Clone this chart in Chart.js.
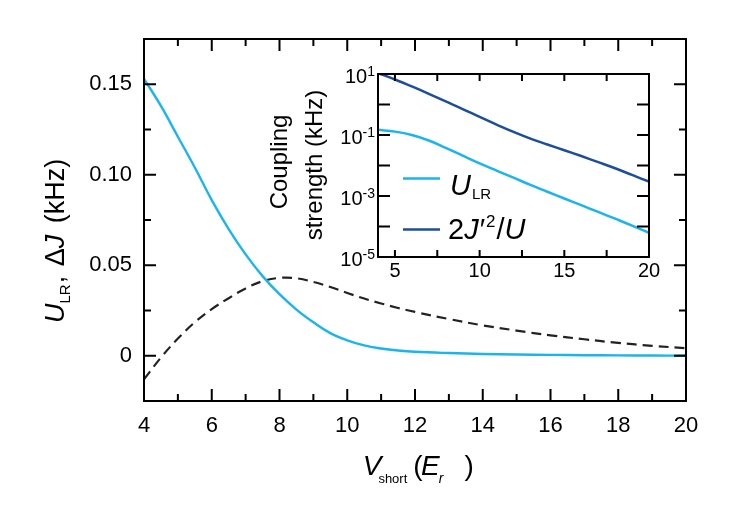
<!DOCTYPE html>
<html><head><meta charset="utf-8">
<script src="https://cdn.jsdelivr.net/npm/chart.js@4/dist/chart.umd.min.js"></script>
<style>
html,body{margin:0;padding:0;background:#fff;}
#wrap{position:relative;width:746px;height:515px;overflow:hidden;}
#main{position:absolute;left:0;top:0;}
#inset{position:absolute;left:250px;top:40px;}
</style></head>
<body><div id="wrap"><canvas id="main" width="746" height="515"></canvas><canvas id="inset" width="440" height="260"></canvas></div>
<script>
// ---- data ----
const vShort = [4,4.5,5,5.5,6,6.5,7,7.5,8,8.5,9,9.5,10,10.5,11,11.5,12,13,14,15,16,17,18,19,20];
const uLR    = [0.153,0.138,0.121,0.104,0.086,0.070,0.056,0.044,0.034,0.0255,0.0185,0.0125,0.0085,0.0057,0.0040,0.0029,0.0022,0.0015,0.0010,0.0007,0.0005,0.0003,0.0002,0.0001,0.0001];
const deltaJ = [-0.013,-0.001,0.0095,0.0185,0.0258,0.0318,0.0372,0.0412,0.0430,0.0428,0.0408,0.0380,0.0347,0.0316,0.0289,0.0264,0.0242,0.0203,0.0168,0.0139,0.0113,0.0091,0.0071,0.0055,0.0042];

const insetV   = [4,5,6,7,8,9,10,11,12,13,14,15,16,17,18,19,20];
const insetULR = [0.148,0.129,0.100,0.066,0.038,0.021,0.0117,0.0068,0.0040,0.0023,0.00138,0.00083,0.0005,0.0003,0.00018,0.000107,0.0000617];
const insetJ2U = [10.7,6.6,3.9,2.24,1.26,0.71,0.39,0.22,0.126,0.076,0.049,0.0316,0.0204,0.0129,0.0081,0.0049,0.00295];

const insetXTicks = [5,7.5,10,12.5,15,17.5,20];
const insetYTicks = [1e-5,1e-4,1e-3,1e-2,1e-1,1,10];
const insetYLabelExp = [1,-1,-3,-5];

const CYAN = '#19b5ec', NAVY = '#1b4f9b', DASH = '#222222';
const FAM = '"Liberation Sans", Arial, Helvetica, sans-serif';
const F = (s, it) => (it ? 'italic ' : '') + s + 'px ' + FAM;

function rich(ctx, x, y, rot, parts) {
  ctx.save(); ctx.translate(x, y); if (rot) ctx.rotate(rot);
  ctx.fillStyle = '#000'; ctx.textBaseline = 'alphabetic'; ctx.textAlign = 'left';
  let cx = 0;
  parts.forEach(p => { ctx.font = p.f; cx += (p.dx || 0); ctx.fillText(p.t, cx, p.dy || 0); cx += ctx.measureText(p.t).width; });
  ctx.restore();
}

function frameTicks(chart, xLen, yLen) {
  const {ctx, chartArea: a} = chart; const xs = chart.scales.x, ys = chart.scales.y;
  ctx.save(); ctx.strokeStyle = '#000'; ctx.lineWidth = 2; ctx.lineCap = 'butt';
  ctx.beginPath();
  xs.ticks.forEach(t => { const p = xs.getPixelForValue(t.value); const L = xLen(t.value);
    if (p <= a.left + 1 || p >= a.right - 1) return;
    ctx.moveTo(p, a.bottom); ctx.lineTo(p, a.bottom - L); ctx.moveTo(p, a.top); ctx.lineTo(p, a.top + L); });
  ys.ticks.forEach(t => { const p = ys.getPixelForValue(t.value); const L = yLen(t.value);
    if (p <= a.top + 1 || p >= a.bottom - 1) return;
    ctx.moveTo(a.left, p); ctx.lineTo(a.left + L, p); ctx.moveTo(a.right, p); ctx.lineTo(a.right - L, p); });
  ctx.stroke();
  ctx.strokeRect(a.left, a.top, a.right - a.left, a.bottom - a.top);
  ctx.restore();
}

const mainDecor = {
  id: 'mainDecor',
  afterDraw(chart) {
    frameTicks(chart, v => (Math.round(v) % 2 === 0 ? 12 : 7), v => (Math.round(v * 1000) % 50 === 0 ? 12 : 7));
    const ctx = chart.ctx;
    rich(ctx, 64, 323, -Math.PI / 2, [
      {t: 'U', f: F(27, true)}, {t: 'LR', f: F(15), dy: 6, dx: 0},
      {t: ',', f: F(27), dx: 1}, {t: ' \u0394', f: F(27), dx: 2}, {t: 'J', f: F(27, true)},
      {t: ' (kHz)', f: F(27), dx: 4}
    ]);
    rich(ctx, 362.7, 475, 0, [
      {t: 'V', f: F(28, true)}, {t: 'short', f: F(13), dy: 7.7, dx: -3},
      {t: '(', f: F(28), dx: 6}, {t: 'E', f: F(28, true), dx: -1.5},
      {t: 'r', f: F(14, true), dy: 7.7, dx: -1}, {t: ')', f: F(28), dx: 21}
    ]);
  }
};

new Chart(document.getElementById('main'), {
  type: 'line',
  data: {
    datasets: [
      {data: vShort.map((v, i) => ({x: v, y: uLR[i]})), borderColor: CYAN, borderWidth: 2.4, pointRadius: 0, tension: 0.4, fill: false},
      {data: vShort.map((v, i) => ({x: v, y: deltaJ[i]})), borderColor: DASH, borderWidth: 2.2, borderDash: [10, 6], pointRadius: 0, tension: 0.4, fill: false}
    ]
  },
  options: {
    responsive: false, animation: false, devicePixelRatio: 1,
    layout: {padding: {top: 39, right: 60, left: 0, bottom: 0}},
    plugins: {legend: {display: false}, tooltip: {enabled: false}},
    scales: {
      x: {
        type: 'linear', min: 4, max: 20, position: 'bottom',
        grid: {display: false, drawTicks: false}, border: {display: false},
        ticks: {stepSize: 1, autoSkip: false, maxRotation: 0, padding: 12, color: '#000',
          font: {family: FAM, size: 22},
          callback: v => (Math.round(v) % 2 === 0 ? String(Math.round(v)) : '')},
        afterFit: s => { s.height = 114; }
      },
      y: {
        type: 'linear', min: -0.025, max: 0.175, position: 'left',
        grid: {display: false, drawTicks: false}, border: {display: false},
        ticks: {stepSize: 0.025, autoSkip: false, padding: 12, color: '#000',
          font: {family: FAM, size: 22},
          callback: v => { const r = Math.round(v * 1000); if (r % 50 !== 0 || r < 0 || r > 150) return ''; return r === 0 ? '0' : (r / 1000).toFixed(2); }},
        afterFit: s => { s.width = 144; }
      }
    }
  },
  plugins: [mainDecor]
});

const insetDecor = {
  id: 'insetDecor',
  afterDraw(chart) {
    frameTicks(chart, () => 7, () => 12);
    const ctx = chart.ctx; const a = chart.chartArea; const ys = chart.scales.y;
    insetYLabelExp.forEach(e => {
      const p = ys.getPixelForValue(Math.pow(10, e));
      ctx.save(); ctx.fillStyle = '#000'; ctx.textBaseline = 'alphabetic';
      ctx.font = F(20); const w1 = ctx.measureText('10').width;
      ctx.font = F(14); const es = String(e); const w2 = ctx.measureText(es).width;
      const x0 = a.left - 3 - w1 - w2;
      ctx.font = F(20); ctx.fillText('10', x0, p + 8.5);
      ctx.font = F(14); ctx.fillText(es, x0 + w1, p + 1.5);
      ctx.restore();
    });
    ctx.save(); ctx.fillStyle = '#000'; ctx.font = F(24); ctx.textAlign = 'center'; ctx.textBaseline = 'alphabetic';
    ctx.translate(37, 122); ctx.rotate(-Math.PI / 2); ctx.fillText('Coupling', 0, 0); ctx.restore();
    ctx.save(); ctx.fillStyle = '#000'; ctx.font = F(24); ctx.textAlign = 'center'; ctx.textBaseline = 'alphabetic';
    ctx.translate(72, 125); ctx.rotate(-Math.PI / 2); ctx.fillText('strength (kHz)', 0, 0); ctx.restore();
    ctx.save(); ctx.lineWidth = 2.5;
    ctx.strokeStyle = CYAN; ctx.beginPath(); ctx.moveTo(153, 138.5); ctx.lineTo(190, 138.5); ctx.stroke();
    ctx.strokeStyle = NAVY; ctx.beginPath(); ctx.moveTo(153, 189.5); ctx.lineTo(190, 189.5); ctx.stroke();
    ctx.restore();
    rich(ctx, 200, 155, 0, [{t: 'U', f: F(29, true)}, {t: 'LR', f: F(15), dy: 3.5, dx: 1}]);
    rich(ctx, 198, 198.5, 0, [{t: '2', f: F(29)}, {t: 'J', f: F(29, true)}, {t: '\u2032', f: F(29), dx: 1},
      {t: '2', f: F(17), dy: -12, dx: 1}, {t: '/', f: F(29), dx: 1}, {t: 'U', f: F(29, true)}]);
  }
};

new Chart(document.getElementById('inset'), {
  type: 'line',
  data: {
    datasets: [
      {data: insetV.map((v, i) => ({x: v, y: insetULR[i]})), borderColor: CYAN, borderWidth: 2.5, pointRadius: 0, tension: 0.4, fill: false},
      {data: insetV.map((v, i) => ({x: v, y: insetJ2U[i]})), borderColor: NAVY, borderWidth: 2.5, pointRadius: 0, tension: 0.4, fill: false}
    ]
  },
  options: {
    responsive: false, animation: false, devicePixelRatio: 1,
    layout: {padding: {top: 34, right: 41, left: 0, bottom: 0}},
    plugins: {legend: {display: false}, tooltip: {enabled: false}},
    scales: {
      x: {
        type: 'linear', min: 4, max: 20, position: 'bottom',
        grid: {display: false, drawTicks: false}, border: {display: false},
        afterBuildTicks: s => { s.ticks = insetXTicks.map(v => ({value: v})); },
        ticks: {autoSkip: false, maxRotation: 0, padding: 2, color: '#000', font: {family: FAM, size: 20},
          callback: v => (v % 5 === 0 ? String(v) : '')},
        afterFit: s => { s.height = 43; }
      },
      y: {
        type: 'logarithmic', min: 1e-5, max: 10, position: 'left',
        grid: {display: false, drawTicks: false}, border: {display: false},
        afterBuildTicks: s => { s.ticks = insetYTicks.map(v => ({value: v})); },
        ticks: {display: false},
        afterFit: s => { s.width = 128; }
      }
    }
  },
  plugins: [insetDecor]
});
</script>
</body></html>
